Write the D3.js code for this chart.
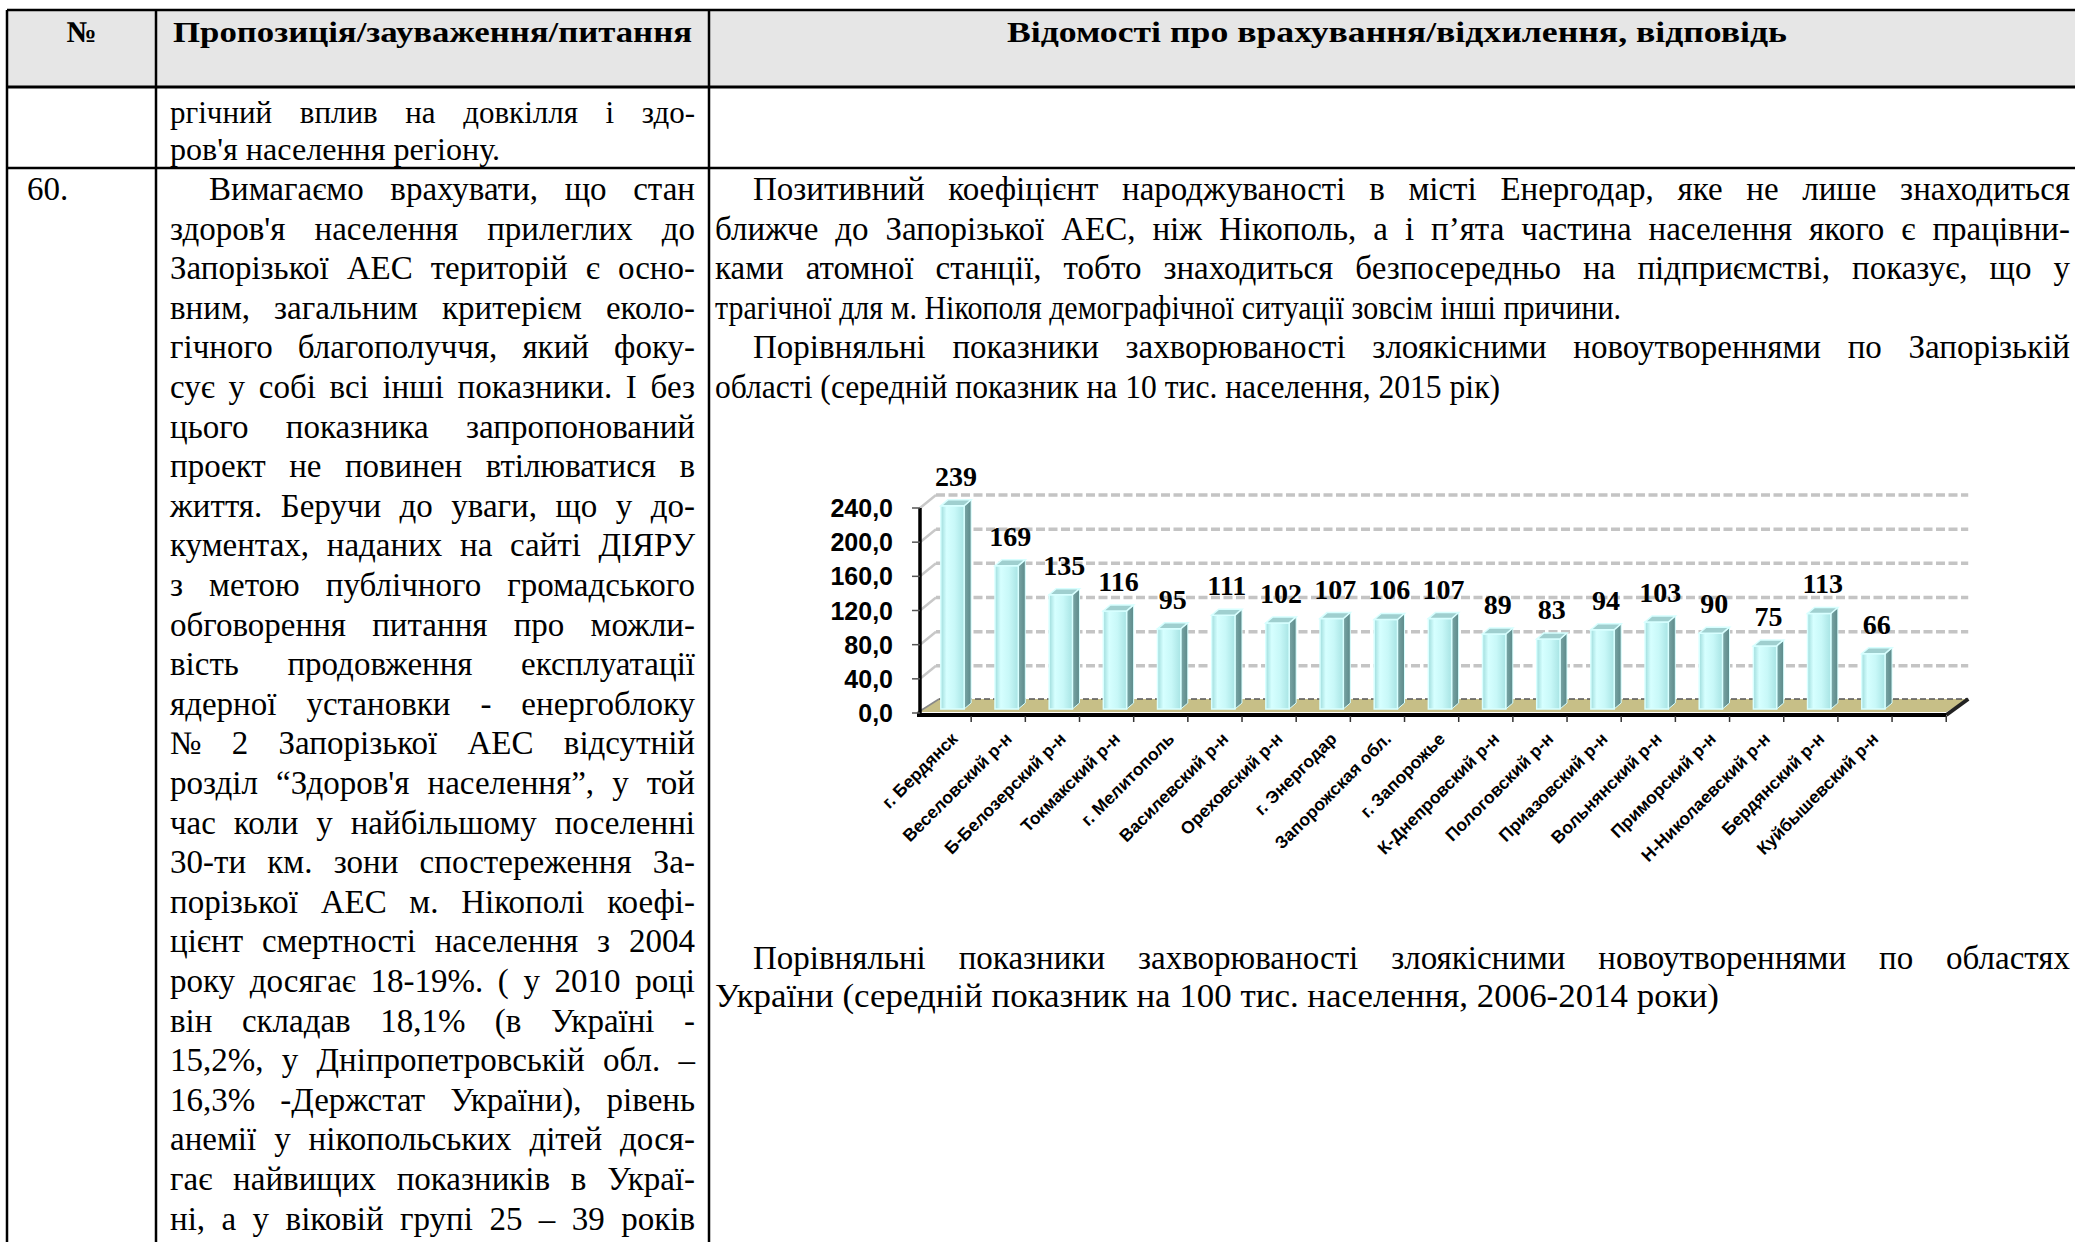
<!DOCTYPE html>
<html><head><meta charset="utf-8">
<script src="https://cdn.jsdelivr.net/npm/d3@7"></script>
<style>
html,body{margin:0;padding:0;background:#fff;}
svg{display:block;}
</style></head>
<body>
<script>
// ---------- DATA ----------
const categories = ["г. Бердянск","Веселовский р-н","Б-Белозерский р-н","Токмакский р-н","г. Мелитополь","Василевский р-н","Ореховский р-н","г. Энергодар","Запорожская обл.","г. Запорожье","К-Днепровский р-н","Пологовский р-н","Приазовский р-н","Вольнянский р-н","Приморский р-н","Н-Николаевский р-н","Бердянский р-н","Куйбышевский р-н"];
const values = [239,169,135,116,95,111,102,107,106,107,89,83,94,103,90,75,113,66];
const yTicks = [0,40,80,120,160,200,240];
const yTickLabels = ["0,0","40,0","80,0","120,0","160,0","200,0","240,0"];

const headerTexts = ["№","Пропозиція/зауваження/питання","Відомості про врахування/відхилення, відповідь"];
const row2Lines = ["ргічний вплив на довкілля і здо-","ров'я населення регіону."];
const rowNumber = "60.";
const leftLines = [
"Вимагаємо врахувати, що стан",
"здоров'я населення прилеглих до",
"Запорізької АЕС територій є осно-",
"вним, загальним критерієм еколо-",
"гічного благополуччя, який фоку-",
"сує у собі всі інші показники. І без",
"цього показника запропонований",
"проект не повинен втілюватися в",
"життя. Беручи до уваги, що у до-",
"кументах, наданих на сайті ДІЯРУ",
"з метою публічного громадського",
"обговорення питання про можли-",
"вість продовження експлуатації",
"ядерної установки - енергоблоку",
"№ 2 Запорізької АЕС відсутній",
"розділ “Здоров'я населення”, у той",
"час коли у найбільшому поселенні",
"30-ти км. зони спостереження За-",
"порізької АЕС м. Нікополі коефі-",
"цієнт смертності населення з 2004",
"року досягає 18-19%. ( у 2010 році",
"він складав 18,1% (в Україні -",
"15,2%, у Дніпропетровській обл. –",
"16,3% -Держстат України), рівень",
"анемії у нікопольських дітей дося-",
"гає найвищих показників в Украї-",
"ні, а у віковій групі 25 – 39 років"];
const rightTop = [
"Позитивний коефіцієнт народжуваності в місті Енергодар, яке не лише знаходиться",
"ближче до Запорізької АЕС, ніж Нікополь, а і п’ята частина населення якого є працівни-",
"ками атомної станції, тобто знаходиться безпосередньо на підприємстві, показує, що у",
"трагічної для м. Нікополя демографічної ситуації зовсім інші причини.",
"Порівняльні показники захворюваності злоякісними новоутвореннями по Запорізькій",
"області (середній показник на 10 тис. населення, 2015 рік)"];
const rightBottom = [
"Порівняльні показники захворюваності злоякісними новоутвореннями по областях",
"України (середній показник на 100 тис. населення, 2006-2014 роки)"];

// ---------- SVG ----------
const W = 2075, H = 1242;
const svg = d3.select("body").append("svg").attr("width", W).attr("height", H);
const SERIF = "'Liberation Serif','Times New Roman',serif";
const SANS = "'Liberation Sans',Arial,sans-serif";
const FS = 33;

// table geometry
const tL = 7, tR = 2085, tTop = 10, hBot = 87, sep = 168, c1 = 156, c2 = 709;
svg.append("rect").attr("x", tL).attr("y", tTop).attr("width", tR - tL).attr("height", hBot - tTop).attr("fill", "#e6e6e6");

function line(x1,y1,x2,y2,w){ svg.append("line").attr("x1",x1).attr("y1",y1).attr("x2",x2).attr("y2",y2).attr("stroke","#000").attr("stroke-width",w); }
line(tL, tTop, tR, tTop, 2.5);
line(tL, hBot, tR, hBot, 3);
line(tL, sep, tR, sep, 2.5);
[tL, c1, c2].forEach(x => line(x, tTop, x, H, 2.5));

function txt(s, x, y, opts){
  return svg.append("text").attr("x", x).attr("y", y).text(s)
    .attr("font-family", opts.family || SERIF).attr("font-size", opts.size || FS)
    .attr("font-weight", opts.weight || "normal").attr("fill", "#000")
    .attr("text-anchor", opts.anchor || "start");
}
// header
txt(headerTexts[0], (tL + c1) / 2, 42, {weight:"bold", anchor:"middle", size:30});
txt(headerTexts[1], (c1 + c2) / 2, 42, {weight:"bold", anchor:"middle", size:30}).attr("textLength", 519).attr("lengthAdjust","spacingAndGlyphs");
txt(headerTexts[2], (c2 + tR) / 2, 42, {weight:"bold", anchor:"middle", size:30}).attr("textLength", 780).attr("lengthAdjust","spacingAndGlyphs");

// justified line helper
function justified(s, x0, x1, y, size){
  const t = txt(s, x0, y, {size: size});
  const nat = t.node().getComputedTextLength();
  const target = x1 - x0;
  const spaces = (s.match(/ /g) || []).length;
  if (nat < target && spaces > 0) t.attr("word-spacing", (target - nat) / spaces);
  else t.attr("textLength", target).attr("lengthAdjust", "spacingAndGlyphs");
  return t;
}
function plain(s, x0, y, width, size){
  const t = txt(s, x0, y, {size: size});
  if (width) t.attr("textLength", width).attr("lengthAdjust", "spacingAndGlyphs");
  return t;
}

// row 2 (continuation from previous page)
justified(row2Lines[0], 170, 695, 123, 31);
plain(row2Lines[1], 170, 160, 330, 31);

// row 60
const L0 = 200, LS = 39.6;
txt(rowNumber, 27, L0, {});
leftLines.forEach((s, i) => justified(s, i === 0 ? 209 : 170, 695, L0 + i * LS));

// right column
justified(rightTop[0], 753, 2070, L0);
justified(rightTop[1], 715, 2070, L0 + LS);
justified(rightTop[2], 715, 2070, L0 + 2 * LS);
plain(rightTop[3], 715, L0 + 3 * LS, 906);
justified(rightTop[4], 753, 2070, L0 + 4 * LS);
plain(rightTop[5], 715, L0 + 5 * LS, 785);

justified(rightBottom[0], 753, 2070, 969);
plain(rightBottom[1], 715, 1007, 1004);

// ---------- CHART ----------
const y = d3.scaleLinear().domain([0, 240]).range([713, 508]);
const x = d3.scaleBand().domain(categories).range([917, 917 + categories.length * 54.17]);
const bw = x.bandwidth();
const axisStart = x.range()[0], axisEnd = x.range()[1] + x.step();
const wdx = 16, wdy = -13;
const y0 = y(0);

const defs = svg.append("defs");
const gFront = defs.append("linearGradient").attr("id","gFront").attr("x1","0").attr("x2","1").attr("y1","0").attr("y2","0");
[["0%","#9fdcdc"],["25%","#d6ffff"],["60%","#c8f8f8"],["100%","#a8e4e4"]].forEach(s=>gFront.append("stop").attr("offset",s[0]).attr("stop-color",s[1]));
const gSide = defs.append("linearGradient").attr("id","gSide").attr("x1","0").attr("x2","1").attr("y1","0").attr("y2","0");
[["0%","#7aa6a6"],["100%","#5c8a8a"]].forEach(s=>gSide.append("stop").attr("offset",s[0]).attr("stop-color",s[1]));

const chart = svg.append("g");

chart.selectAll(".diag").data(yTicks.filter(t => t > 0)).enter().append("line")
  .attr("x1", axisStart + 3).attr("x2", axisStart + 3 + wdx)
  .attr("y1", d => y(d)).attr("y2", d => y(d) + wdy)
  .attr("stroke", "#c8c8c8").attr("stroke-width", 2.5);

chart.selectAll(".grid").data(yTicks.filter(t => t > 0)).enter().append("line")
  .attr("x1", axisStart + 3 + wdx).attr("x2", axisEnd + 22)
  .attr("y1", d => y(d) + wdy).attr("y2", d => y(d) + wdy)
  .attr("stroke", "#c4c4c4").attr("stroke-width", 3.5).attr("stroke-dasharray", "9,3.5");

chart.append("polygon")
  .attr("points", [[axisStart, y0 - 1],[axisEnd, y0 - 1],[axisEnd + 22, y0 - 14],[axisStart + 22, y0 - 14]].map(p => p.join(",")).join(" "))
  .attr("fill", "#c7bf87");
chart.append("line").attr("x1", axisStart + 22).attr("x2", axisEnd + 22).attr("y1", y0 - 14).attr("y2", y0 - 14)
  .attr("stroke", "#555").attr("stroke-width", 1.5).attr("stroke-dasharray", "6,3");
chart.append("line").attr("x1", axisStart).attr("x2", axisStart + 22).attr("y1", y0).attr("y2", y0 - 14)
  .attr("stroke", "#888").attr("stroke-width", 1.5);
chart.append("line").attr("x1", axisEnd).attr("x2", axisEnd + 22).attr("y1", y0 + 2).attr("y2", y0 - 14)
  .attr("stroke", "#222").attr("stroke-width", 4);

const fw = bw * 0.43, bd = 7, bdy = -6;
const bars = chart.selectAll(".bar").data(categories.map((c, i) => ({c, v: values[i]}))).enter().append("g");
bars.each(function(d){
  const g = d3.select(this);
  const x0 = x(d.c) + bw * 0.44;
  const yt = y(d.v) - 3, yb = y0 - 4;
  g.append("polygon").attr("points", [[x0+fw, yt],[x0+fw+bd, yt+bdy],[x0+fw+bd, yb+bdy],[x0+fw, yb]].map(p=>p.join(",")).join(" "))
    .attr("fill", "url(#gSide)").attr("stroke", "#d8ffff").attr("stroke-width", 1);
  g.append("rect").attr("x", x0).attr("y", yt).attr("width", fw).attr("height", yb - yt)
    .attr("fill", "url(#gFront)").attr("stroke", "#d8ffff").attr("stroke-width", 1.5);
  g.append("polygon").attr("points", [[x0, yt],[x0+fw, yt],[x0+fw+bd, yt+bdy],[x0+bd, yt+bdy]].map(p=>p.join(",")).join(" "))
    .attr("fill", "#9fcfcf").attr("stroke", "#d8ffff").attr("stroke-width", 1.5);
});

chart.selectAll(".vl").data(categories.map((c, i) => ({c, v: values[i]}))).enter().append("text")
  .attr("x", d => x(d.c) + bw * 0.44 + (fw + bd) / 2)
  .attr("y", d => y(d.v) - 23)
  .attr("text-anchor", "middle").attr("font-family", SERIF).attr("font-weight", "bold").attr("font-size", 28)
  .text(d => d.v);

chart.append("line").attr("x1", axisStart).attr("x2", axisEnd).attr("y1", y0 + 2).attr("y2", y0 + 2)
  .attr("stroke", "#000").attr("stroke-width", 4);
const tickXs = d3.range(1, categories.length + 2).map(k => axisStart + k * x.step());
chart.selectAll(".xt").data(tickXs).enter().append("line")
  .attr("x1", d => d).attr("x2", d => d).attr("y1", y0 + 3).attr("y2", y0 + 9)
  .attr("stroke", "#333").attr("stroke-width", 1.5);

chart.append("line").attr("x1", axisStart + 3).attr("x2", axisStart + 3).attr("y1", y(240)).attr("y2", y0 + 2)
  .attr("stroke", "#000").attr("stroke-width", 3.5);
chart.selectAll(".yt").data(yTicks).enter().append("line")
  .attr("x1", axisStart - 5).attr("x2", axisStart + 3).attr("y1", d => y(d)).attr("y2", d => y(d))
  .attr("stroke", "#555").attr("stroke-width", 1.5);
chart.selectAll(".yl").data(yTicks).enter().append("text")
  .attr("x", axisStart - 24).attr("y", d => y(d) + 9)
  .attr("text-anchor", "end").attr("font-family", SANS).attr("font-weight", "bold").attr("font-size", 25)
  .text((d, i) => yTickLabels[i]);

chart.selectAll(".xl").data(categories).enter().append("text")
  .attr("transform", d => `translate(${x(d) + bw * 0.77},${y0 + 27}) rotate(-45)`)
  .attr("text-anchor", "end").attr("font-family", SANS).attr("font-weight", "bold").attr("font-size", 17.5)
  .text(d => d);
</script>
</body></html>
